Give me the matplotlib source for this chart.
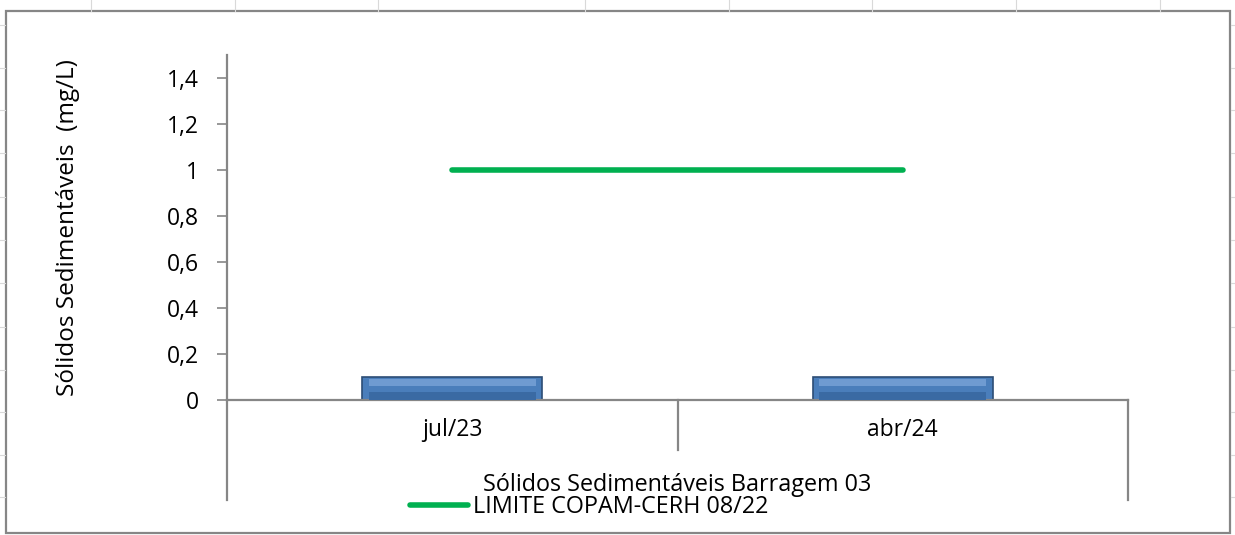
import matplotlib.pyplot as plt
from matplotlib.patches import Rectangle
from matplotlib.lines import Line2D
import matplotlib.transforms as mtransforms

plt.rcParams['font.family'] = ['Open Sans', 'DejaVu Sans']

# data
categorias = ['jul/23', 'abr/24']
solidos = [0.1, 0.1]
limite = [1, 1]
grupo = 'Sólidos Sedimentáveis Barragem 03'
nome_limite = 'LIMITE COPAM-CERH 08/22'
y_ticks = [0, 0.2, 0.4, 0.6, 0.8, 1, 1.2, 1.4]
y_labels = ['0', '0,2', '0,4', '0,6', '0,8', '1', '1,2', '1,4']

cinza = '#868686'
verde = '#00b050'

fig = plt.figure(figsize=(12.35, 5.35), dpi=100)

# spreadsheet cells peeking out behind the chart
for xc in [91, 235, 378, 585, 729, 872, 1016, 1160]:
    fig.add_artist(Line2D([xc / 1235, xc / 1235], [1, 1 - 11 / 535], color='#d9d9d9', lw=0.8))
for yc in [25, 68, 110, 153, 197, 240, 283, 327, 370, 412, 455, 497]:
    fig.add_artist(Line2D([0, 5 / 1235], [1 - yc / 535] * 2, color='#d9d9d9', lw=0.8))
    fig.add_artist(Line2D([1231 / 1235, 1], [1 - yc / 535] * 2, color='#d9d9d9', lw=0.8))

# chart frame
fig.add_artist(Rectangle((6 / 1235, 1 - 533 / 535), 1224 / 1235, 522 / 535,
                         transform=fig.transFigure, fill=False, edgecolor=cinza, lw=1.6))

ax = fig.add_axes([227 / 1235, 1 - 400 / 535, 901 / 1235, 345 / 535])
x = list(range(len(categorias)))

# bars with a simple bevel look
ax.bar(x, solidos, width=0.4, color='#4a7ebb', edgecolor='#2c4d75', lw=1.2, zorder=2)
ax.bar(x, [v * 0.3 for v in solidos], bottom=[v * 0.6 for v in solidos], width=0.37,
       color='#6f9bd1', lw=0, zorder=3)
ax.bar(x, [v * 0.35 for v in solidos], width=0.37, color='#3a6aa3', lw=0, zorder=3)

ax.plot(x, limite, color=verde, lw=4, solid_capstyle='round', zorder=4)

ax.set_xlim(-0.5, len(categorias) - 0.5)
ax.set_ylim(0, 1.5)
ax.set_yticks(y_ticks)
ax.set_yticklabels(y_labels, fontsize=16.5)
ax.tick_params(axis='y', direction='out', length=7.5, width=1.2, color=cinza, pad=13)
ax.set_xticks(x)
ax.set_xticklabels(categorias, fontsize=16.5)
ax.tick_params(axis='x', length=0, pad=13)

for s in ['top', 'right']:
    ax.spines[s].set_visible(False)
for s in ['left', 'bottom']:
    ax.spines[s].set_color(cinza)
    ax.spines[s].set_linewidth(1.6)

# category separators of the multi-level axis
trans = mtransforms.blended_transform_factory(ax.transData, ax.transAxes)
bordas = [i - 0.5 for i in range(len(categorias) + 1)]
for i, b in enumerate(bordas):
    fundo = -0.29 if i in (0, len(bordas) - 1) else -0.145
    ax.plot([b, b], [0, fundo], color=cinza, lw=1.6, transform=trans, clip_on=False)

ax.text((len(categorias) - 1) / 2, -0.246, grupo, transform=trans, ha='center', va='center',
        fontsize=16.8)

fig.text(68 / 1235, 1 - 228 / 535, 'Sólidos Sedimentáveis  (mg/L)', rotation=90,
         ha='center', va='center', fontsize=17.5)

# legend
leg = ax.legend([Line2D([], [], color=verde, lw=4, solid_capstyle='round')], [nome_limite],
                loc='center left', bbox_to_anchor=(183 / 901, -0.31), frameon=False, fontsize=16.8,
                handlelength=2.5, handletextpad=0.2, borderpad=0, borderaxespad=0)

fig.savefig('out.png', dpi=100)
